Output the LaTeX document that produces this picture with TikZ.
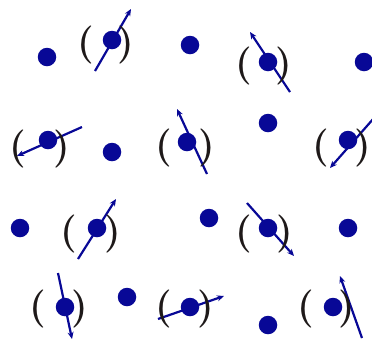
\documentclass[tikz,border=0pt]{standalone}
\usetikzlibrary{arrows.meta}
\definecolor{dotblue}{RGB}{8,8,150}
\definecolor{brk}{RGB}{30,25,25}
\tikzset{
 site/.style={circle,fill=dotblue,inner sep=0pt,minimum size=18.5pt},
 spin/.style={draw=dotblue,line width=2.2pt,-{Stealth[length=7pt,width=6pt]}},
 brkt/.style={text=brk,inner sep=0pt,font=\fontsize{38}{38}\selectfont\bfseries},
}
\begin{document}
\begin{tikzpicture}[x=1pt,y=-1pt]
\useasboundingbox (0,0) rectangle (372,341);
% row 1
\node[site] (a1) at (47,57) {};
\coordinate (b1t) at (95,71); \coordinate (b1h) at (131,9);
\draw[spin] (b1t) -- (b1h);
\node[site] (b1) at (112,40) {};
\node[brkt] (b1l) at (86,45) {(};
\node[brkt] (b1r) at (126,45) {)};
\node[site] (c1) at (190,45) {};
\coordinate (d1t) at (290,92); \coordinate (d1h) at (250,32);
\draw[spin] (d1t) -- (d1h);
\node[site] (d1) at (268,62) {};
\node[brkt] (d1l) at (244,66) {(};
\node[brkt] (d1r) at (284,66) {)};
\node[site] (e1) at (364,62) {};
% row 2
\coordinate (f2t) at (82,127); \coordinate (f2h) at (17,156);
\draw[spin] (f2t) -- (f2h);
\node[site] (f2) at (48,140) {};
\node[brkt] (f2l) at (18,149) {(};
\node[brkt] (f2r) at (62,149) {)};
\node[site] (g2) at (112,152) {};
\coordinate (h2t) at (207,174); \coordinate (h2h) at (177,109);
\draw[spin] (h2t) -- (h2h);
\node[site] (h2) at (187,142) {};
\node[brkt] (h2l) at (164,148) {(};
\node[brkt] (h2r) at (207,148) {)};
\node[site] (i2) at (268,123) {};
\coordinate (j2t) at (374,118); \coordinate (j2h) at (330,168);
\draw[spin] (j2t) -- (j2h);
\node[site] (j2) at (348,140) {};
\node[brkt] (j2l) at (321,148) {(};
\node[brkt] (j2r) at (363,148) {)};
% row 3
\node[site] (k3) at (20,228) {};
\coordinate (l3t) at (78,259); \coordinate (l3h) at (116,199);
\draw[spin] (l3t) -- (l3h);
\node[site] (l3) at (97,228) {};
\node[brkt] (l3l) at (69,234) {(};
\node[brkt] (l3r) at (113,234) {)};
\node[site] (m3) at (209,218) {};
\coordinate (n3t) at (247,203); \coordinate (n3h) at (294,256);
\draw[spin] (n3t) -- (n3h);
\node[site] (n3) at (268,228) {};
\node[brkt] (n3l) at (244,234) {(};
\node[brkt] (n3r) at (285,234) {)};
\node[site] (o3) at (348,228) {};
% row 4
\coordinate (p4t) at (58,273); \coordinate (p4h) at (72,339);
\draw[spin] (p4t) -- (p4h);
\node[site] (p4) at (65,307) {};
\node[brkt] (p4l) at (38,309) {(};
\node[brkt] (p4r) at (80,309) {)};
\node[site] (q4) at (127,297) {};
\coordinate (r4t) at (158,319); \coordinate (r4h) at (224,296);
\draw[spin] (r4t) -- (r4h);
\node[site] (r4) at (190,307) {};
\node[brkt] (r4l) at (164,309) {(};
\node[brkt] (r4r) at (206,309) {)};
\node[site] (s4) at (268,325) {};
\coordinate (t4t) at (362,338); \coordinate (t4h) at (340,276);
\draw[spin] (t4t) -- (t4h);
\node[site] (t4) at (333,307) {};
\node[brkt] (t4l) at (306,309) {(};
\node[brkt] (t4r) at (347,309) {)};
\end{tikzpicture}
\end{document}
